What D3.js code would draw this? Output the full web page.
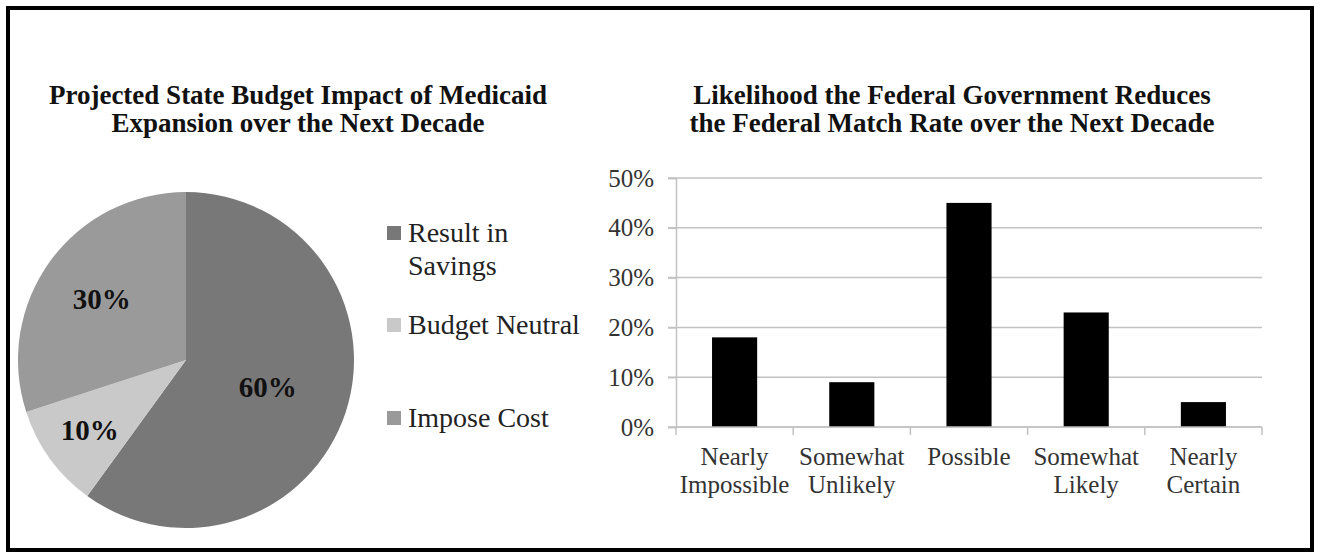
<!DOCTYPE html>
<html>
<head>
<meta charset="utf-8">
<script src="https://cdn.jsdelivr.net/npm/d3@7"></script>
<style>
  html, body { margin: 0; padding: 0; background: #fff; }
  svg { display: block; }
  text { font-family: "Liberation Serif", "Times New Roman", serif; }
</style>
</head>
<body>
<svg id="chart" width="1320" height="555"></svg>
<script>
// Pie: projected state budget impact
const pieCategories = ["Result in Savings", "Budget Neutral", "Impose Cost"];
const pieValues = [60, 10, 30];
const pieLegendLines = [["Result in", "Savings"], ["Budget Neutral"], ["Impose Cost"]];

// Bars: likelihood of a reduced federal match rate
const barCategories = ["Nearly Impossible", "Somewhat Unlikely", "Possible", "Somewhat Likely", "Nearly Certain"];
const barLabelLines = [["Nearly", "Impossible"], ["Somewhat", "Unlikely"], ["Possible"], ["Somewhat", "Likely"], ["Nearly", "Certain"]];
const barValues = [18, 9, 45, 23, 5];
const yTicks = [0, 10, 20, 30, 40, 50];

const pieTitle = ["Projected State Budget Impact of Medicaid", "Expansion over the Next Decade"];
const barTitle = ["Likelihood the Federal Government Reduces", "the Federal Match Rate over the Next Decade"];

const svg = d3.select("#chart");

// outer frame
svg.append("rect")
  .attr("x", 8).attr("y", 8).attr("width", 1304).attr("height", 542)
  .attr("fill", "#fff").attr("stroke", "#000").attr("stroke-width", 4);

// ---------- Pie chart ----------
const pieColors = d3.scaleOrdinal().domain(pieCategories).range(["#787878", "#c9c9c9", "#9a9a9a"]);

const titleL = svg.append("text")
  .attr("x", 298).attr("y", 104)
  .attr("text-anchor", "middle")
  .attr("font-weight", "bold").attr("font-size", 27).attr("fill", "#111");
pieTitle.forEach((t, i) => titleL.append("tspan").attr("x", 298).attr("dy", i ? 28 : 0).text(t));

const cx = 186, cy = 360, r = 168;
const pie = d3.pie().sort(null).value(d => d)(pieValues);
const arc = d3.arc().innerRadius(0).outerRadius(r);

const gPie = svg.append("g").attr("transform", `translate(${cx},${cy})`);
gPie.selectAll("path.slice")
  .data(pie)
  .join("path")
  .attr("class", "slice")
  .attr("d", arc)
  .attr("fill", (d, i) => pieColors(pieCategories[i]));

// percentage labels sit at slightly different depths inside each slice
const labelDepth = [86, 119, 104];
gPie.selectAll("text.pct")
  .data(pie)
  .join("text")
  .attr("class", "pct")
  .attr("transform", (d, i) => {
    const c = d3.arc().innerRadius(labelDepth[i]).outerRadius(labelDepth[i]).centroid(d);
    return `translate(${c[0]},${c[1]})`;
  })
  .attr("text-anchor", "middle")
  .attr("dy", "0.35em")
  .attr("font-weight", "bold").attr("font-size", 29).attr("fill", "#111")
  .text(d => d.value + "%");

// legend
const legendY = [233, 325, 418];
const gLeg = svg.append("g");
pieCategories.forEach((c, i) => {
  gLeg.append("rect")
    .attr("x", 387).attr("y", legendY[i] - 7).attr("width", 14).attr("height", 14)
    .attr("fill", pieColors(c));
  const t = gLeg.append("text")
    .attr("x", 408).attr("y", legendY[i] + 9)
    .attr("font-size", 28).attr("fill", "#222");
  pieLegendLines[i].forEach((line, j) => t.append("tspan").attr("x", 408).attr("dy", j ? 33 : 0).text(line));
});

// ---------- Bar chart ----------
const titleR = svg.append("text")
  .attr("x", 952).attr("y", 104)
  .attr("text-anchor", "middle")
  .attr("font-weight", "bold").attr("font-size", 27).attr("fill", "#111");
barTitle.forEach((t, i) => titleR.append("tspan").attr("x", 952).attr("dy", i ? 28 : 0).text(t));

const x = d3.scaleBand().domain(barCategories).range([676, 1262]).padding(0);
const y = d3.scaleLinear().domain([0, 50]).range([427, 178]);

// gridlines
svg.append("g")
  .selectAll("line")
  .data(yTicks)
  .join("line")
  .attr("x1", 668).attr("x2", 1262)
  .attr("y1", d => y(d)).attr("y2", d => y(d))
  .attr("stroke", "#c2c2c2").attr("stroke-width", 1.5);

// y axis
const yAxis = svg.append("g")
  .attr("transform", "translate(676,0)")
  .call(d3.axisLeft(y).tickValues(yTicks).tickFormat(d => d + "%").tickSize(8).tickPadding(14));
yAxis.select(".domain").attr("stroke", "#c2c2c2").attr("stroke-width", 1.5);
yAxis.selectAll(".tick line").attr("stroke", "#c2c2c2").attr("stroke-width", 1.5);
yAxis.selectAll(".tick text")
  .attr("font-family", "Liberation Serif, serif").attr("font-size", 25).attr("fill", "#333");

// bars
const barW = x.bandwidth() * 0.385;
svg.append("g")
  .selectAll("rect")
  .data(barValues)
  .join("rect")
  .attr("x", (d, i) => x(barCategories[i]) + (x.bandwidth() - barW) / 2)
  .attr("y", d => y(d))
  .attr("width", barW)
  .attr("height", d => y(0) - y(d))
  .attr("fill", "#000");

// x axis with category boundary ticks
const xAxis = svg.append("g").attr("transform", `translate(0,${y(0)})`);
xAxis.append("line")
  .attr("x1", 676).attr("x2", 1262)
  .attr("stroke", "#c2c2c2").attr("stroke-width", 1.5);
const bounds = barCategories.map(c => x(c)).concat([x.range()[1]]);
xAxis.selectAll("line.tk")
  .data(bounds)
  .join("line")
  .attr("class", "tk")
  .attr("x1", d => d).attr("x2", d => d)
  .attr("y1", 0).attr("y2", 8)
  .attr("stroke", "#c2c2c2").attr("stroke-width", 1.5);

barCategories.forEach((c, i) => {
  const t = xAxis.append("text")
    .attr("x", x(c) + x.bandwidth() / 2).attr("y", 38)
    .attr("text-anchor", "middle")
    .attr("font-size", 25).attr("fill", "#333");
  barLabelLines[i].forEach((line, j) =>
    t.append("tspan").attr("x", x(c) + x.bandwidth() / 2).attr("dy", j ? 28 : 0).text(line));
});
</script>
</body>
</html>
